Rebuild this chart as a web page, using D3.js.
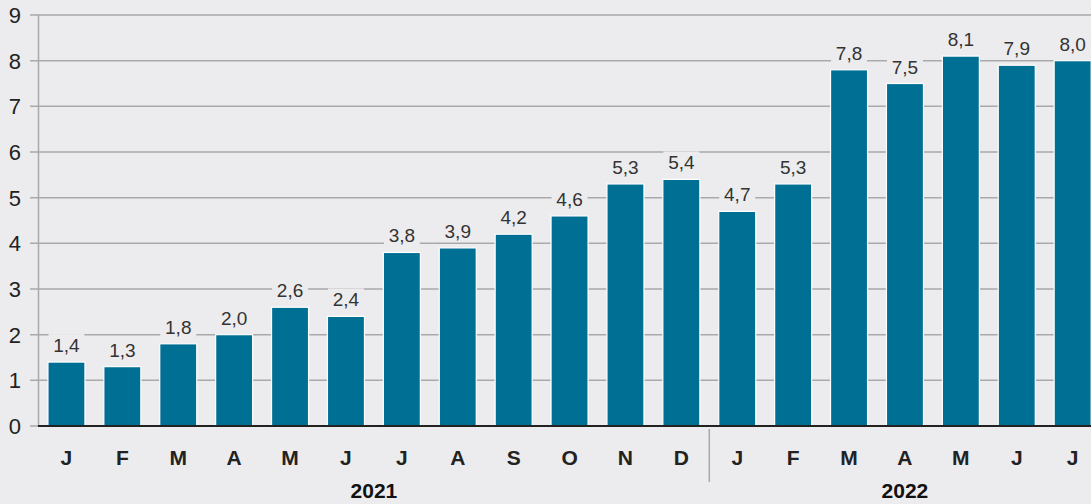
<!DOCTYPE html>
<html>
<head>
<meta charset="utf-8">
<script src="https://cdn.jsdelivr.net/npm/d3@7"></script>
<style>
  html, body { margin: 0; padding: 0; background: #ececee; }
  svg { display: block; font-family: "Liberation Sans", Arial, sans-serif; }
</style>
</head>
<body>
<svg id="chart" width="1091" height="504"></svg>
<script>
// monthly values, Jan 2021 .. Jul 2022
const months = ['J', 'F', 'M', 'A', 'M', 'J', 'J', 'A', 'S', 'O', 'N', 'D', 'J', 'F', 'M', 'A', 'M', 'J', 'J'];
const values = [1.4, 1.3, 1.8, 2.0, 2.6, 2.4, 3.8, 3.9, 4.2, 4.6, 5.3, 5.4, 4.7, 5.3, 7.8, 7.5, 8.1, 7.9, 8.0];
const years = [{ label: '2021', count: 12 }, { label: '2022', count: 7 }];
const yTicks = [0, 1, 2, 3, 4, 5, 6, 7, 8, 9];

const bg = '#ececee';
const barColor = '#006f94';
const fmt = (v) => d3.format('.1f')(v).replace('.', ',');

const svg = d3.select('#chart');
const idx = d3.range(values.length);

const x = d3.scaleBand()
  .domain(idx)
  .range([38.5, 38.5 + values.length * 55.9])
  .paddingInner(0.338)
  .paddingOuter(0.169);

const y = d3.scaleLinear().domain([0, 9]).range([426, 15]);

// gridlines with little stubs left of the axis
svg.append('g')
  .selectAll('line')
  .data(yTicks.filter(d => d > 0))
  .join('line')
  .attr('x1', 30)
  .attr('x2', 1091)
  .attr('y1', d => y(d))
  .attr('y2', d => y(d))
  .attr('stroke', '#a9a9ab')
  .attr('stroke-width', 1.5);

svg.append('line')
  .attr('x1', 30).attr('x2', 38)
  .attr('y1', y(0)).attr('y2', y(0))
  .attr('stroke', '#a9a9ab').attr('stroke-width', 1.5);

svg.append('line')
  .attr('x1', 38.5).attr('x2', 38.5)
  .attr('y1', y(9)).attr('y2', y(0))
  .attr('stroke', '#a9a9ab').attr('stroke-width', 1.5);

svg.append('g')
  .selectAll('text')
  .data(yTicks)
  .join('text')
  .attr('x', 21)
  .attr('y', d => y(d))
  .attr('dy', '0.36em')
  .attr('text-anchor', 'end')
  .attr('font-size', 22)
  .attr('fill', '#222')
  .text(d => d);

// bars
svg.append('g')
  .selectAll('rect')
  .data(idx)
  .join('rect')
  .attr('x', i => x(i))
  .attr('y', i => y(values[i]))
  .attr('width', x.bandwidth())
  .attr('height', i => y(0) - y(values[i]))
  .attr('fill', barColor)
  .attr('stroke', '#ffffff')
  .attr('stroke-width', 1.2);

// value labels, knocked out of the gridlines
const labels = svg.append('g')
  .selectAll('g')
  .data(idx)
  .join('g')
  .attr('transform', i => `translate(${x(i) + x.bandwidth() / 2},${y(values[i]) - 10})`);

labels.append('rect')
  .attr('x', -18)
  .attr('y', -18)
  .attr('width', 36)
  .attr('height', 21)
  .attr('fill', bg);

labels.append('text')
  .attr('text-anchor', 'middle')
  .attr('font-size', 19)
  .attr('fill', '#333')
  .text(i => fmt(values[i]));

// baseline
svg.append('line')
  .attr('x1', 38).attr('x2', 1091)
  .attr('y1', y(0)).attr('y2', y(0))
  .attr('stroke', '#222').attr('stroke-width', 2);

// month labels
svg.append('g')
  .selectAll('text')
  .data(idx)
  .join('text')
  .attr('x', i => x(i) + x.bandwidth() / 2)
  .attr('y', 465)
  .attr('text-anchor', 'middle')
  .attr('font-size', 21)
  .attr('font-weight', 'bold')
  .attr('fill', '#222')
  .text(i => months[i]);

// year groups
let start = 0;
years.forEach((yr, k) => {
  const x0 = x(start) - x.step() * x.paddingInner() / 2;
  const x1 = x0 + yr.count * x.step();
  svg.append('text')
    .attr('x', (x0 + x1) / 2)
    .attr('y', 498)
    .attr('text-anchor', 'middle')
    .attr('font-size', 21)
    .attr('font-weight', 'bold')
    .attr('fill', '#111')
    .text(yr.label);
  if (k > 0) {
    svg.append('line')
      .attr('x1', x0).attr('x2', x0)
      .attr('y1', 429).attr('y2', 482)
      .attr('stroke', '#a9a9ab').attr('stroke-width', 1.5);
  }
  start += yr.count;
});
</script>
</body>
</html>
